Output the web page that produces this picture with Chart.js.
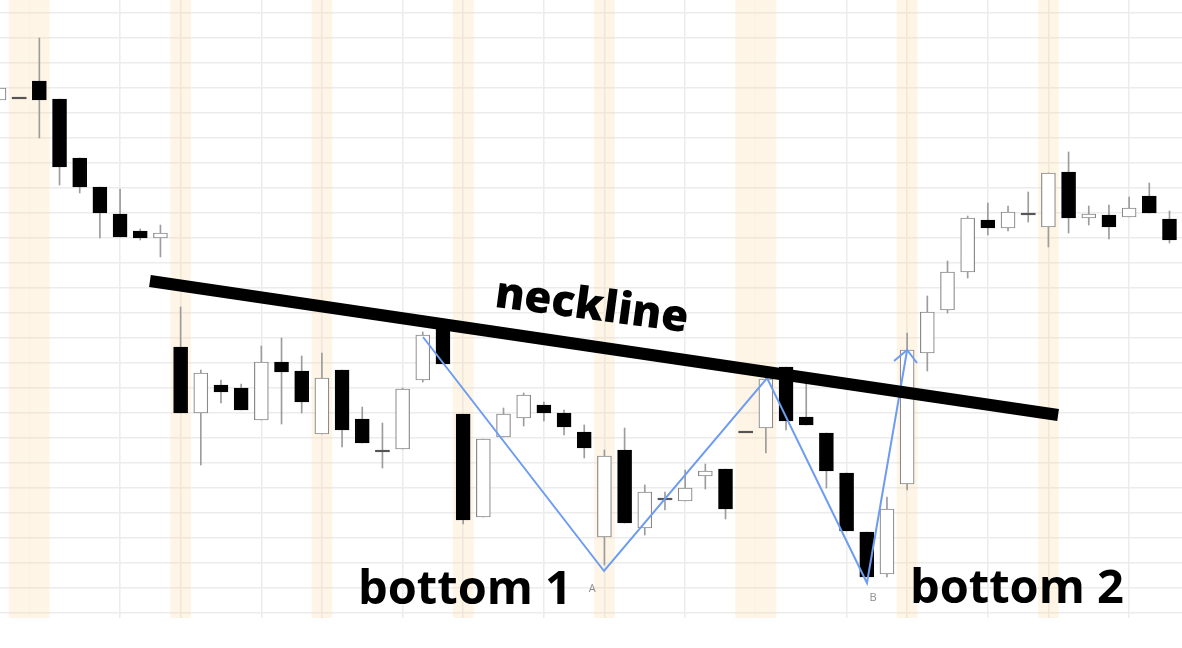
<!DOCTYPE html>
<html lang="en">
<head>
    <meta charset="UTF-8">
    <title>Double bottom</title>
    <script src="https://cdn.jsdelivr.net/npm/chart.js"></script>
    <style>
        html, body { margin: 0; padding: 0; background: #fff; }
        canvas { display: block; }
    </style>
</head>
<body>
<canvas id="chart" width="1182" height="648"></canvas>
<script>
    // candles, one per day (index 0..58)
    const open = [102.6, 103, 106.4, 102.8, 91, 85.2, 79.8, 76.4, 75, 53.2,
        40, 45.6, 45, 38.6, 50.2, 48.4, 35.8, 48.6, 38.8, 32.4,
        32.8, 46.6, 58.2, 39.8, 19.2, 35.2, 39, 41.6, 40, 36.2,
        15.2, 32.6, 17, 22.8, 22.4, 27.4, 28.8, 36.2, 37, 49.2,
        39.2, 36, 28, 16.2, 7.8, 25.8, 52, 60.6, 68.2, 78.6,
        77, 79.8, 77.2, 88.2, 79, 79.6, 79.2, 83.4, 78.8];
    const close = [105, 103, 102.6, 89.2, 85.2, 80, 75.2, 75, 76, 40,
        48, 44.2, 40.6, 50.2, 48.2, 42.2, 47, 36.6, 34, 32.4,
        44.8, 55.6, 49.8, 18.6, 34.8, 39.8, 43.6, 40, 37.2, 33,
        31.4, 18, 24.2, 22.8, 25, 28.4, 20.8, 36.2, 46.8, 38.4,
        37.6, 28.4, 16.4, 7.2, 20.8, 52.6, 60.2, 68.2, 79, 77,
        80.2, 79.8, 88, 79, 79.8, 77.2, 81, 80, 74.6];
    const high = [105.2, 103, 115, 102.8, 91, 85.2, 84.8, 76.8, 77.6, 61.2,
        48.6, 46.6, 45.8, 53.4, 55, 51.4, 52, 48.6, 41.2, 38,
        45, 56.2, 58.2, 39.8, 34.8, 41, 44, 42.2, 40.6, 37.6,
        32.6, 37, 25.6, 24.2, 28.6, 29.8, 28.8, 36.2, 47.6, 49.2,
        46, 36, 28, 16.2, 23.2, 56, 63.4, 70.4, 79.4, 82,
        81.4, 84.2, 88, 92.2, 81.4, 81.6, 83.2, 86, 80.4];
    const low = [102.6, 103, 95, 85.6, 84, 75, 75.2, 74.6, 71.2, 40,
        29.6, 42, 40.6, 38.6, 37.8, 40, 35.8, 33.2, 34, 29,
        32.8, 46.2, 49.8, 17.8, 19.2, 35.2, 37.4, 38.4, 35.6, 31,
        9.6, 18, 15.6, 20.6, 22.4, 24.8, 18.8, 36.2, 32, 36.6,
        37.6, 25, 16.4, 7.2, 7.2, 24.6, 48.4, 60, 67, 75.6,
        76.4, 78.2, 73.2, 76, 77.6, 74.8, 79.2, 80, 74];

    // shaded days and vertical grid days
    const bandDays = [1, 2, 9, 16, 23, 30, 37, 38, 45, 52];
    const gridDays = [6, 9, 13, 16, 20, 23, 27, 30, 34, 42, 45, 49, 52, 56];
    const priceTicks = [0, 5, 10, 15, 20, 25, 30, 35, 40, 45, 50, 55, 60,
        65, 70, 75, 80, 85, 90, 95, 100, 105, 110, 115, 120];

    // drawn pattern (day, price)
    const neckline = [{x: 7.48, y: 66.4}, {x: 52.48, y: 39.6}];
    const wPath = [{x: 21.01, y: 55.2}, {x: 29.98, y: 8.4}, {x: 38.06, y: 47},
        {x: 43.01, y: 6}, {x: 45.0, y: 52.6}];
    const arrowHead = [{x: 44.35, y: 50.4}, {x: 45.0, y: 52.6}, {x: 45.49, y: 50}];

    const labels = [
        {text: 'neckline', x: 29.29, y: 58.7, font: '800 44px "Open Sans"', color: '#000', align: 'center', angle: 7.6},
        {text: 'bottom 1', x: 17.79, y: 1.8, font: 'bold 47px "Open Sans"', color: '#000', align: 'left', angle: 0},
        {text: 'bottom 2', x: 45.14, y: 2, font: 'bold 47px "Open Sans"', color: '#000', align: 'left', angle: 0},
        {text: 'A', x: 29.39, y: 4.2, font: '11px "Open Sans"', color: '#8c8c8c', align: 'center', angle: 0},
        {text: 'B', x: 43.31, y: 2.4, font: '11px "Open Sans"', color: '#8c8c8c', align: 'center', angle: 0}
    ];

    const isUp = i => close[i] > open[i];
    const isDoji = i => close[i] === open[i];

    const wicks = open.map((o, i) => ({x: i, y: [low[i], high[i]]}));
    const bodies = open.map((o, i) => {
        let lo = Math.min(o, close[i]), hi = Math.max(o, close[i]);
        if (hi - lo < 0.3) { lo -= 0.15; hi += 0.15; }
        return {x: i, y: [lo, hi]};
    });
    const bands = bandDays.map(d => ({x: d, y: [-1, 122.6]}));

    const textPlugin = {
        id: 'texts',
        afterDatasetsDraw(chart) {
            const ctx = chart.ctx;
            const xs = chart.scales.x, ys = chart.scales.y;
            labels.forEach(l => {
                ctx.save();
                ctx.translate(xs.getPixelForValue(l.x), ys.getPixelForValue(l.y));
                ctx.rotate(l.angle * Math.PI / 180);
                ctx.font = l.font;
                ctx.fillStyle = l.color;
                ctx.textAlign = l.align;
                ctx.textBaseline = 'alphabetic';
                ctx.fillText(l.text, 0, 0);
                ctx.restore();
            });
        }
    };

    const config = {
        data: {
            datasets: [
                {
                    type: 'bar',
                    data: bands,
                    grouped: false,
                    barThickness: 20,
                    backgroundColor: 'rgba(250,214,160,0.25)',
                    borderWidth: 0,
                    order: 10
                },
                {
                    type: 'bar',
                    data: wicks,
                    grouped: false,
                    barThickness: 1,
                    backgroundColor: '#9c9c9c',
                    borderWidth: 0,
                    order: 6
                },
                {
                    type: 'bar',
                    data: bodies,
                    grouped: false,
                    barThickness: 14,
                    backgroundColor: ctx => isDoji(ctx.dataIndex) ? '#555' : (isUp(ctx.dataIndex) ? '#fff' : '#000'),
                    borderColor: ctx => isDoji(ctx.dataIndex) ? '#555' : (isUp(ctx.dataIndex) ? '#8a8a8a' : '#000'),
                    borderWidth: ctx => isDoji(ctx.dataIndex) ? 0 : 1.2,
                    borderSkipped: false,
                    order: 5
                },
                {
                    type: 'line',
                    data: wPath,
                    borderColor: '#6e9cf0',
                    borderWidth: 2,
                    pointRadius: 0,
                    tension: 0,
                    order: 2
                },
                {
                    type: 'line',
                    data: arrowHead,
                    borderColor: '#6e9cf0',
                    borderWidth: 2,
                    pointRadius: 0,
                    tension: 0,
                    order: 2
                },
                {
                    type: 'line',
                    data: neckline,
                    borderColor: '#000',
                    borderWidth: 12,
                    borderCapStyle: 'butt',
                    pointRadius: 0,
                    tension: 0,
                    order: 1
                }
            ]
        },
        options: {
            responsive: false,
            animation: false,
            layout: {padding: {left: 0, right: 0, top: 0, bottom: 30}},
            plugins: {
                legend: {display: false},
                tooltip: {enabled: false}
            },
            scales: {
                x: {
                    type: 'linear',
                    offset: false,
                    min: 0.05,
                    max: 58.62,
                    afterBuildTicks: s => { s.ticks = gridDays.map(v => ({value: v})); },
                    ticks: {display: false},
                    border: {display: false},
                    grid: {color: '#ececec', lineWidth: 1.5, drawTicks: false, offset: false}
                },
                y: {
                    type: 'linear',
                    min: -1,
                    max: 122.6,
                    afterBuildTicks: s => { s.ticks = priceTicks.map(v => ({value: v})); },
                    ticks: {display: false},
                    border: {display: false},
                    grid: {color: '#ececec', lineWidth: 1.5, drawTicks: false}
                }
            }
        },
        plugins: [textPlugin]
    };
    const chart = new Chart(document.getElementById('chart'), config)
</script>
</body>
</html>
